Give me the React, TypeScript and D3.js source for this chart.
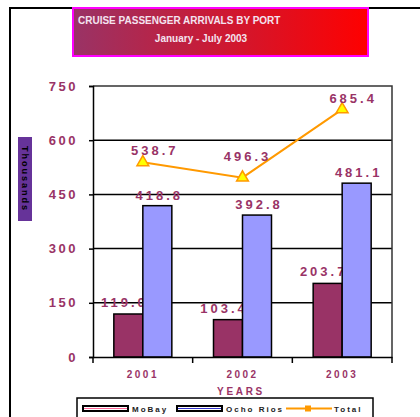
import React, { useEffect, useRef } from 'react';
import * as d3 from 'd3';

const YEARS = ["2001", "2002", "2003"];
const MOBAY = [119.0, 103.4, 203.7];
const OCHO_RIOS = [418.8, 392.8, 481.1];
const TOTAL = [538.7, 496.3, 685.4];
const Y_TICKS = [0, 150, 300, 450, 600, 750];

const FONT = "'Liberation Sans', Arial, sans-serif";
const PLUM = '#993366';

// label nudges for the Total points (as placed in the original)
const TOTAL_LABEL_DX = [12, 5, 11];
const TOTAL_LABEL_DY = [-7, -17, -6];

const App = () => {
    const svgRef = useRef<SVGSVGElement>(null);

    // plot area
    const width = 420;
    const height = 417;
    const plot = { left: 93, right: 392, top: 86, bottom: 357 };

    useEffect(() => {
        const svg = d3.select(svgRef.current);
        svg.selectAll("*").remove();

        const x = d3.scaleBand().domain(YEARS).range([plot.left, plot.right]);
        const y = d3.scaleLinear().domain([0, 750]).range([plot.bottom, plot.top]);
        const barW = 29;

        const defs = svg.append('defs');
        const grad = defs.append('linearGradient').attr('id', 'titleGrad');
        grad.append('stop').attr('offset', '0%').attr('stop-color', '#993366');
        grad.append('stop').attr('offset', '100%').attr('stop-color', '#ff0000');

        // outer frame (top + left)
        svg.append('path')
            .attr('d', 'M10,417 L10,8 L420,8')
            .attr('fill', 'none')
            .attr('stroke', '#000')
            .attr('stroke-width', 2);

        // title box
        svg.append('rect')
            .attr('x', 73).attr('y', 8).attr('width', 295).attr('height', 48)
            .attr('fill', 'url(#titleGrad)')
            .attr('stroke', '#ff00ff').attr('stroke-width', 2);
        svg.append('text')
            .attr('x', 78).attr('y', 24)
            .attr('font-family', FONT).attr('font-size', 10).attr('font-weight', 'bold')
            .attr('fill', '#f4e4f0')
            .text('CRUISE PASSENGER ARRIVALS BY PORT');
        svg.append('text')
            .attr('x', 201).attr('y', 42).attr('text-anchor', 'middle')
            .attr('font-family', FONT).attr('font-size', 10).attr('font-weight', 'bold')
            .attr('fill', '#f4e4f0')
            .text('January - July 2003');

        // gridlines
        svg.append('g')
            .selectAll('line')
            .data(Y_TICKS.filter(d => d > 0 && d < 750))
            .enter().append('line')
            .attr('x1', plot.left).attr('x2', plot.right)
            .attr('y1', d => y(d)).attr('y2', d => y(d))
            .attr('stroke', '#000').attr('stroke-width', 1.5);

        // plot border top/right
        svg.append('path')
            .attr('d', `M${plot.left},${plot.top} L${plot.right},${plot.top} L${plot.right},${plot.bottom}`)
            .attr('fill', 'none').attr('stroke', '#333').attr('stroke-width', 1.5);

        // y axis
        const yAxis = svg.append('g')
            .attr('transform', `translate(${plot.left},0)`)
            .call(d3.axisLeft(y).tickValues(Y_TICKS).tickSize(4).tickPadding(11).tickFormat(d3.format('d')));
        yAxis.select('.domain').attr('stroke', '#000').attr('stroke-width', 1.5);
        yAxis.selectAll('.tick line').attr('stroke', '#000').attr('stroke-width', 1.5);
        yAxis.selectAll('.tick text')
            .attr('fill', PLUM).attr('font-family', FONT).attr('font-size', 13).attr('font-weight', 'bold')
            .attr('letter-spacing', '2.5px');

        // y title
        svg.append('rect')
            .attr('x', 18).attr('y', 137).attr('width', 14).attr('height', 84)
            .attr('fill', '#663399');
        svg.append('text')
            .attr('transform', 'translate(22,179) rotate(90)')
            .attr('text-anchor', 'middle')
            .attr('font-family', FONT).attr('font-size', 9).attr('font-weight', 'bold')
            .attr('letter-spacing', '2px')
            .attr('fill', '#000')
            .text('Thousands');

        const labelStyle = (sel: any) => sel
            .attr('fill', PLUM).attr('font-family', FONT).attr('font-size', 13).attr('font-weight', 'bold')
            .attr('letter-spacing', '3px').attr('text-anchor', 'middle');

        // bars MoBay + labels
        svg.append('g').selectAll('rect')
            .data(MOBAY).enter().append('rect')
            .attr('x', (d, i) => x(YEARS[i])! + x.bandwidth() / 2 - barW)
            .attr('y', d => y(d))
            .attr('width', barW).attr('height', d => plot.bottom - y(d))
            .attr('fill', '#993366').attr('stroke', '#000').attr('stroke-width', 1.5);
        svg.append('g').selectAll('text')
            .data(MOBAY).enter().append('text')
            .call(labelStyle)
            .attr('x', (d, i) => x(YEARS[i])! + x.bandwidth() / 2 - barW / 2 - 4)
            .attr('y', d => y(d) - 7)
            .text(d => d.toFixed(1));

        // bars Ocho Rios + labels
        svg.append('g').selectAll('rect')
            .data(OCHO_RIOS).enter().append('rect')
            .attr('x', (d, i) => x(YEARS[i])! + x.bandwidth() / 2)
            .attr('y', d => y(d))
            .attr('width', barW).attr('height', d => plot.bottom - y(d))
            .attr('fill', '#9999ff').attr('stroke', '#000').attr('stroke-width', 1.5);
        svg.append('g').selectAll('text')
            .data(OCHO_RIOS).enter().append('text')
            .call(labelStyle)
            .attr('x', (d, i) => x(YEARS[i])! + x.bandwidth() / 2 + barW / 2 + 2)
            .attr('y', d => y(d) - 6)
            .text(d => d.toFixed(1));

        // x axis
        const xAxis = svg.append('g')
            .attr('transform', `translate(0,${plot.bottom})`)
            .call(d3.axisBottom(x).tickSize(0).tickPadding(14));
        xAxis.select('.domain').attr('stroke', '#000').attr('stroke-width', 1.5);
        xAxis.selectAll('.tick text')
            .attr('fill', PLUM).attr('font-family', FONT).attr('font-size', 10).attr('font-weight', 'bold')
            .attr('letter-spacing', '2.5px');
        svg.append('g').selectAll('line')
            .data(d3.range(YEARS.length + 1))
            .enter().append('line')
            .attr('x1', i => plot.left + i * x.step()).attr('x2', i => plot.left + i * x.step())
            .attr('y1', plot.bottom).attr('y2', plot.bottom + 6)
            .attr('stroke', '#000').attr('stroke-width', 1.5);
        svg.append('text')
            .attr('x', 241).attr('y', 395).attr('text-anchor', 'middle')
            .attr('fill', PLUM).attr('font-family', FONT).attr('font-size', 10).attr('font-weight', 'bold')
            .attr('letter-spacing', '2.7px')
            .text('YEARS');

        // total line
        const line = d3.line<number>()
            .x((d, i) => x(YEARS[i])! + x.bandwidth() / 2)
            .y(d => y(d));
        svg.append('path')
            .datum(TOTAL)
            .attr('d', line)
            .attr('fill', 'none').attr('stroke', '#ff9900').attr('stroke-width', 2);
        svg.append('g').selectAll('path')
            .data(TOTAL).enter().append('path')
            .attr('d', d3.symbol().type(d3.symbolTriangle).size(60))
            .attr('transform', (d, i) => `translate(${x(YEARS[i])! + x.bandwidth() / 2},${y(d)})`)
            .attr('fill', '#ffff00').attr('stroke', '#ff9900').attr('stroke-width', 1.5);
        svg.append('g').selectAll('text')
            .data(TOTAL).enter().append('text')
            .call(labelStyle)
            .attr('x', (d, i) => x(YEARS[i])! + x.bandwidth() / 2 + TOTAL_LABEL_DX[i])
            .attr('y', (d, i) => y(d) + TOTAL_LABEL_DY[i])
            .text(d => d.toFixed(1));

        // legend
        const lg = svg.append('g');
        lg.append('rect')
            .attr('x', 77).attr('y', 398).attr('width', 296).attr('height', 30)
            .attr('fill', '#fff').attr('stroke', '#000').attr('stroke-width', 1.5);
        const items = [
            { name: 'MoBay', x: 83, color: '#ff6699', kind: 'bar' },
            { name: 'Ocho Rios', x: 177, color: '#3333cc', kind: 'bar' },
            { name: 'Total', x: 286, color: '#ff9900', kind: 'line' },
        ];
        items.forEach(it => {
            if (it.kind === 'bar') {
                lg.append('rect')
                    .attr('x', it.x).attr('y', 406).attr('width', 45).attr('height', 5)
                    .attr('fill', '#fff').attr('stroke', '#000').attr('stroke-width', 2);
                lg.append('line')
                    .attr('x1', it.x + 1).attr('x2', it.x + 44).attr('y1', 408.5).attr('y2', 408.5)
                    .attr('stroke', it.color).attr('stroke-width', 1);
            } else {
                lg.append('line')
                    .attr('x1', it.x).attr('x2', it.x + 46).attr('y1', 408.5).attr('y2', 408.5)
                    .attr('stroke', it.color).attr('stroke-width', 2);
                lg.append('rect')
                    .attr('x', it.x + 19).attr('y', 405.5).attr('width', 6).attr('height', 6)
                    .attr('fill', it.color);
            }
            lg.append('text')
                .attr('x', it.x + (it.kind === 'bar' ? 49 : 48)).attr('y', 412)
                .attr('font-family', FONT).attr('font-size', 8).attr('font-weight', 'bold')
                .attr('letter-spacing', '2px').attr('fill', '#222')
                .text(it.name);
        });
    }, []);

    return (
        <svg ref={svgRef} width={width} height={height}
            style={{ position: 'absolute', left: 0, top: 0, background: '#fff' }} />
    );
};

export default App;
